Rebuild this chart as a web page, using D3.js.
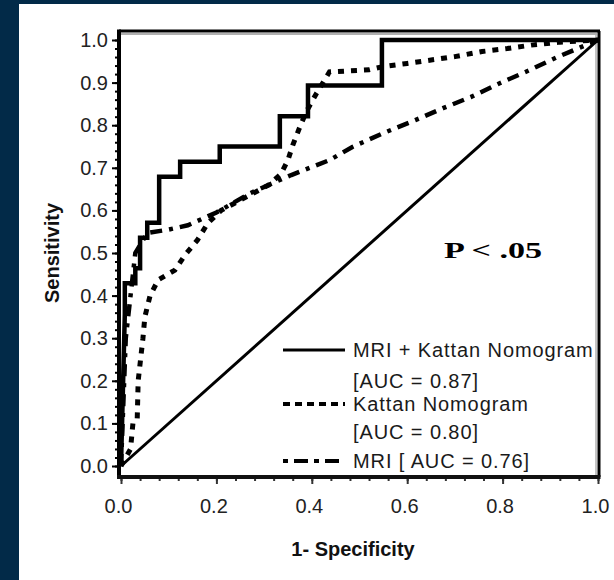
<!DOCTYPE html>
<html><head><meta charset="utf-8">
<script src="https://cdn.jsdelivr.net/npm/d3@7"></script>
<style>html,body{margin:0;padding:0;background:#022a48;} svg{display:block}</style>
</head><body>
<svg id="c" width="614" height="580"></svg>
<script>
// ---------- data ----------
const xTickValues = [0, 0.2, 0.4, 0.6, 0.8, 1.0];
const xTickLabels = ["0.0", "0.2", "0.4", "0.6", "0.8", "1.0"];
const yTickValues = [0, 0.1, 0.2, 0.3, 0.4, 0.5, 0.6, 0.7, 0.8, 0.9, 1.0];
const yTickLabels = ["0.0", "0.1", "0.2", "0.3", "0.4", "0.5", "0.6", "0.7", "0.8", "0.9", "1.0"];
const xTitle = "1- Specificity";
const yTitle = "Sensitivity";
const annotation = "P < .05";

// MRI + Kattan Nomogram (solid step curve)
const comboFpr = [0, 0.008, 0.008, 0.03, 0.03, 0.04, 0.04, 0.055, 0.055, 0.08, 0.08, 0.124, 0.124, 0.207, 0.207, 0.333, 0.333, 0.392, 0.392, 0.547, 0.547, 1.0];
const comboTpr = [0, 0.357, 0.429, 0.429, 0.464, 0.464, 0.536, 0.536, 0.571, 0.571, 0.679, 0.679, 0.714, 0.714, 0.75, 0.75, 0.821, 0.821, 0.893, 0.893, 1.0, 1.0];

// Kattan Nomogram (dotted)
const kattanFpr = [0, 0.01, 0.02, 0.025, 0.034, 0.036, 0.046, 0.05, 0.061, 0.078, 0.113, 0.134, 0.16, 0.182, 0.21, 0.26, 0.31, 0.335, 0.35, 0.36, 0.375, 0.39, 0.41, 0.437, 0.52, 0.547, 0.6, 0.7, 0.757, 0.81, 0.86, 0.92, 1.0];
const kattanTpr = [0, 0.02, 0.04, 0.1, 0.11, 0.2, 0.3, 0.35, 0.4, 0.437, 0.46, 0.495, 0.53, 0.57, 0.6, 0.63, 0.66, 0.685, 0.718, 0.753, 0.796, 0.835, 0.875, 0.925, 0.93, 0.937, 0.945, 0.961, 0.973, 0.98, 0.988, 0.995, 1.0];

// MRI (dash-dot)
const mriFpr = [0, 0.01, 0.03, 0.055, 0.1, 0.14, 0.2, 0.27, 0.32, 0.357, 0.437, 0.485, 0.547, 0.617, 0.675, 0.733, 0.795, 0.848, 0.915, 1.0];
const mriTpr = [0, 0.3, 0.5, 0.547, 0.555, 0.565, 0.595, 0.64, 0.665, 0.683, 0.718, 0.749, 0.78, 0.812, 0.84, 0.866, 0.899, 0.925, 0.96, 1.0];

// chance diagonal
const chanceFpr = [0, 1];
const chanceTpr = [0, 1];

const legendLabels = ["MRI + Kattan Nomogram", "[AUC = 0.87]", "Kattan Nomogram", "[AUC = 0.80]", "MRI [ AUC = 0.76]"];

// ---------- drawing ----------
const svg = d3.select("#c");
svg.append("rect").attr("x", 19).attr("y", 4).attr("width", 595).attr("height", 576).attr("fill", "#ffffff");

const x = d3.scaleLinear().domain([0, 1]).range([121, 598]);
const y = d3.scaleLinear().domain([0, 1]).range([466, 40]);
const frame = {l: 119, r: 599, t: 31, b: 477};

// frame top & right
svg.append("line").attr("x1", frame.l).attr("x2", frame.r + 1).attr("y1", frame.t).attr("y2", frame.t)
  .attr("stroke", "#000").attr("stroke-width", 3);
svg.append("line").attr("x1", frame.l + 2).attr("x2", frame.r - 2).attr("y1", frame.t + 3).attr("y2", frame.t + 3)
  .attr("stroke", "#b0b0b0").attr("stroke-width", 2);
svg.append("line").attr("x1", frame.r).attr("x2", frame.r).attr("y1", frame.t).attr("y2", frame.b)
  .attr("stroke", "#000").attr("stroke-width", 3);
svg.append("line").attr("x1", frame.r - 3).attr("x2", frame.r - 3).attr("y1", frame.t + 3).attr("y2", frame.b - 2)
  .attr("stroke", "#b0b0b0").attr("stroke-width", 1.5);

// y axis: minor ticks
const yMinor = d3.range(0, 1.0001, 0.02);
const yAxisMinor = d3.axisLeft(y).tickValues(yMinor).tickSize(3).tickFormat("");
const gyMinor = svg.append("g").attr("transform", `translate(${frame.l},0)`).call(yAxisMinor);
gyMinor.select(".domain").remove();
gyMinor.selectAll(".tick line").attr("stroke", "#000").attr("stroke-width", 2).attr("transform", "translate(-1,0)");

const yAxis = d3.axisLeft(y).tickValues(yTickValues).tickSize(6)
  .tickFormat((d, i) => yTickLabels[i]).tickPadding(6);
const gy = svg.append("g").attr("transform", `translate(${frame.l},0)`).call(yAxis);
gy.select(".domain").remove();
gy.selectAll(".tick line").attr("stroke", "#000").attr("stroke-width", 2).attr("transform", "translate(-1,0)");
gy.selectAll(".tick text").attr("font-family", "Liberation Sans, Arial, sans-serif").attr("font-size", 20)
  .attr("fill", "#222").attr("x", -11);

// x axis: minor ticks
const xMinor = d3.range(0, 1.0001, 0.04);
const xAxisMinor = d3.axisBottom(x).tickValues(xMinor).tickSize(4).tickFormat("");
const gxMinor = svg.append("g").attr("transform", `translate(0,${frame.b})`).call(xAxisMinor);
gxMinor.select(".domain").remove();
gxMinor.selectAll(".tick line").attr("stroke", "#333").attr("stroke-width", 2);

const xAxis = d3.axisBottom(x).tickValues(xTickValues).tickSize(7)
  .tickFormat((d, i) => xTickLabels[i]);
const gx = svg.append("g").attr("transform", `translate(0,${frame.b})`).call(xAxis);
gx.select(".domain").remove();
gx.selectAll(".tick line").attr("stroke", "#333").attr("stroke-width", 2);
gx.selectAll(".tick text").attr("font-family", "Liberation Sans, Arial, sans-serif").attr("font-size", 20)
  .attr("fill", "#222").attr("y", 22).attr("dx", -3);

// axis lines (left & bottom)
svg.append("line").attr("x1", frame.l).attr("x2", frame.l).attr("y1", frame.t - 1.5).attr("y2", frame.b + 2)
  .attr("stroke", "#000").attr("stroke-width", 4);
svg.append("line").attr("x1", frame.l - 2).attr("x2", frame.r + 1.5).attr("y1", frame.b).attr("y2", frame.b)
  .attr("stroke", "#111").attr("stroke-width", 4);

// curves
const line = d3.line().x(d => x(d[0])).y(d => y(d[1]));
const zip = (a, b) => a.map((v, i) => [v, b[i]]);

svg.append("path").datum(zip(chanceFpr, chanceTpr)).attr("d", line)
  .attr("fill", "none").attr("stroke", "#000").attr("stroke-width", 3);
svg.append("path").datum(zip(mriFpr, mriTpr)).attr("d", line)
  .attr("fill", "none").attr("stroke", "#000").attr("stroke-width", 4.5)
  .attr("stroke-dasharray", "12,7,4,7");
svg.append("path").datum(zip(kattanFpr, kattanTpr)).attr("d", line)
  .attr("fill", "none").attr("stroke", "#000").attr("stroke-width", 5)
  .attr("stroke-dasharray", "6,7");
svg.append("path").datum(zip(comboFpr, comboTpr)).attr("d", line)
  .attr("fill", "none").attr("stroke", "#000").attr("stroke-width", 4.5)
  .attr("stroke-linejoin", "miter");

// legend
const lg = svg.append("g");
const legendRows = [
  {ly: 350, dash: null, w: 3},
  {ly: 404, dash: "7,5", w: 4},
  {ly: 461, dash: "5,6,14,6", w: 4}
];
legendRows.forEach(r => {
  lg.append("line").attr("x1", 283).attr("x2", 345).attr("y1", r.ly).attr("y2", r.ly)
    .attr("stroke", "#000").attr("stroke-width", r.w).attr("stroke-dasharray", r.dash);
});
const legendTextY = [350, 381, 404, 432, 461];
legendLabels.forEach((t, i) => {
  lg.append("text").attr("x", 353).attr("y", legendTextY[i] + 7)
    .attr("font-family", "Liberation Sans, Arial, sans-serif").attr("font-size", 20)
    .attr("letter-spacing", 0.9)
    .attr("fill", "#1a1a1a").text(t);
});

// annotation
svg.append("text").attr("x", 444).attr("y", 258)
  .attr("font-family", "Liberation Serif, Times New Roman, serif").attr("font-weight", "bold")
  .attr("font-size", 24).attr("textLength", 98).attr("lengthAdjust", "spacingAndGlyphs")
  .attr("fill", "#000").text(annotation);

// axis titles
svg.append("text").attr("x", 353).attr("y", 556).attr("text-anchor", "middle")
  .attr("font-family", "Liberation Sans, Arial, sans-serif").attr("font-weight", "bold")
  .attr("font-size", 20).attr("fill", "#111").text(xTitle);
svg.append("text").attr("transform", "translate(59,253) rotate(-90)").attr("text-anchor", "middle")
  .attr("font-family", "Liberation Sans, Arial, sans-serif").attr("font-weight", "bold")
  .attr("font-size", 20).attr("fill", "#111").text(yTitle);
</script>
</body></html>
